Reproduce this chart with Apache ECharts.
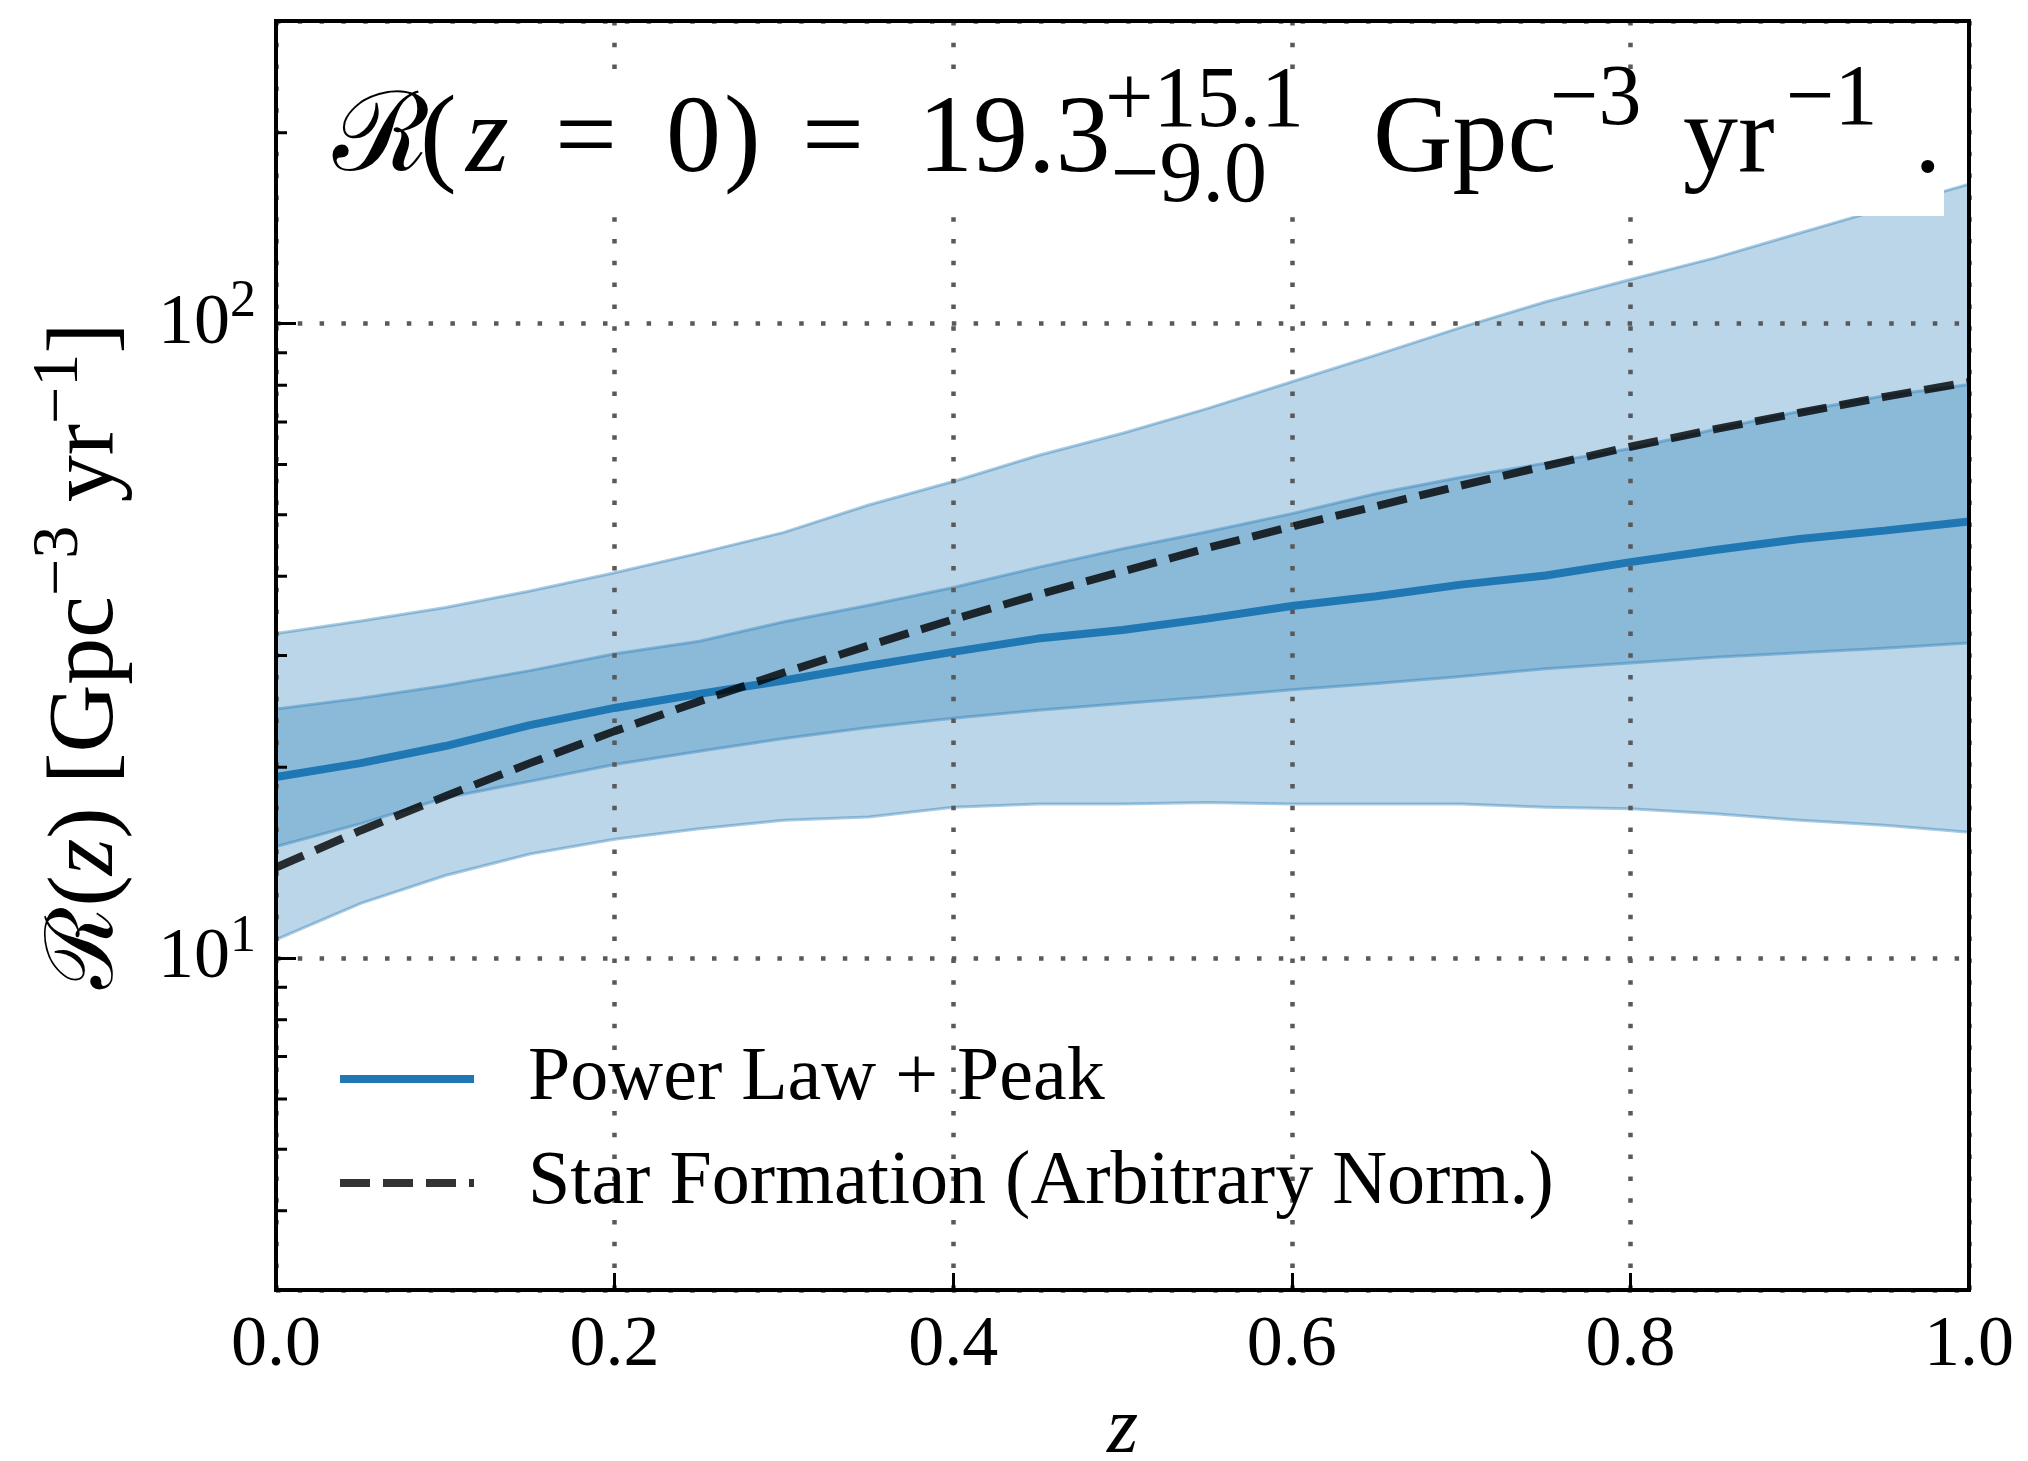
<!DOCTYPE html>
<html>
<head>
<meta charset="utf-8">
<script src="https://cdn.jsdelivr.net/npm/echarts@6/dist/echarts.min.js"></script>
<style>
  html, body { margin: 0; padding: 0; background: #ffffff; }
  #chart { width: 2028px; height: 1461px; }
</style>
</head>
<body>
<div id="chart"></div>
<script>
// Merger rate density R(z) for the Power Law + Peak model, with credible bands
const redshift = [0, 0.05, 0.1, 0.15, 0.2, 0.25, 0.3, 0.35, 0.4, 0.45, 0.5,
                  0.55, 0.6, 0.65, 0.7, 0.75, 0.8, 0.85, 0.9, 0.95, 1.0];
const rate90Upper = [32.5, 34.0, 35.7, 37.9, 40.5, 43.5, 46.9, 51.8, 56.4, 62.0, 67.2,
                     73.5, 81.0, 89.3, 98.7, 108.3, 117.4, 127.0, 139.0, 152.0, 166.0];
const rate50Upper = [24.7, 25.7, 26.9, 28.4, 30.2, 31.6, 33.9, 36.0, 38.4, 41.3, 44.2,
                     47.0, 50.2, 54.0, 57.3, 60.3, 63.6, 68.2, 72.8, 77.0, 80.2];
const rateMedian  = [19.3, 20.3, 21.6, 23.3, 24.8, 26.1, 27.4, 28.9, 30.4, 31.9, 32.9,
                     34.3, 35.9, 37.2, 38.8, 40.1, 42.1, 44.0, 45.8, 47.2, 48.8];
const rate50Lower = [15.0, 16.3, 17.9, 19.0, 20.2, 21.2, 22.2, 23.1, 23.9, 24.6, 25.2,
                     25.8, 26.5, 27.1, 27.8, 28.6, 29.2, 29.8, 30.3, 30.8, 31.4];
const rate90Lower = [10.7, 12.2, 13.5, 14.6, 15.4, 16.0, 16.5, 16.7, 17.3, 17.5, 17.5,
                     17.6, 17.5, 17.5, 17.5, 17.3, 17.2, 16.9, 16.5, 16.2, 15.8];
const starFormation = [13.9, 15.9, 18.0, 20.3, 22.8, 25.4, 28.2, 31.1, 34.2, 37.4, 40.7,
                       44.3, 47.9, 51.6, 55.6, 59.7, 64.0, 68.2, 72.4, 76.7, 80.9];

const seriesNames = ['Power Law + Peak', 'Star Formation (Arbitrary Norm.)'];
const xTicks = { min: 0, max: 1, step: 0.2 };
const yRange = { min: 3, max: 300 };
const minorTickValues = [4, 5, 6, 7, 8, 9, 20, 30, 40, 50, 60, 70, 80, 90, 200];

const SERIF = '"Liberation Serif", "Times New Roman", serif';
const BLUE = '#1f77b4';
const DARK = 'rgba(0,0,0,0.8)';
const BAND_FILL = 'rgba(31,119,180,0.3)';
const BAND_EDGE = 'rgba(31,119,180,0.38)';
const SFR_DASH = [30, 13];
const LINE_W = 8;

const GRID = { left: 276, right: 59, top: 21, bottom: 171 };
const plotW = 2028 - GRID.left - GRID.right;
const plotH = 1461 - GRID.top - GRID.bottom;

function bandSeries(name, lower, upper) {
  return {
    type: 'custom',
    name: name,
    coordinateSystem: 'cartesian2d',
    z: -1,
    silent: true,
    clip: true,
    data: redshift.map((z, i) => [z, lower[i], upper[i]]),
    encode: { x: 0, y: [1, 2] },
    renderItem: function (params, api) {
      if (params.dataIndex !== 0) return null;
      const top = redshift.map((z, i) => api.coord([z, upper[i]]));
      const bot = redshift.map((z, i) => api.coord([z, lower[i]]));
      return {
        type: 'group',
        children: [
          { type: 'polygon', shape: { points: top.concat(bot.slice().reverse()) },
            style: { fill: BAND_FILL } },
          { type: 'polyline', shape: { points: top },
            style: { stroke: BAND_EDGE, lineWidth: 3, fill: null } },
          { type: 'polyline', shape: { points: bot },
            style: { stroke: BAND_EDGE, lineWidth: 3, fill: null } }
        ]
      };
    }
  };
}

function minorTickSeries() {
  return {
    type: 'custom',
    coordinateSystem: 'cartesian2d',
    silent: true,
    clip: false,
    z: 5,
    data: minorTickValues.map(v => [0, v]),
    renderItem: function (params, api) {
      const p = api.coord([api.value(0), api.value(1)]);
      return { type: 'line', shape: { x1: p[0], y1: p[1], x2: p[0] + 11, y2: p[1] },
               style: { stroke: '#000', lineWidth: 3 } };
    }
  };
}

// Annotation: R(z=0) = 19.3 +15.1 -9.0 Gpc^-3 yr^-1.
function headerPiece(text, x, baseline, size, opts) {
  opts = opts || {};
  const family = opts.family || SERIF;
  const style = opts.italic ? 'italic ' : '';
  return {
    type: 'text', z: 31, silent: true,
    style: {
      text: text, x: x, y: baseline - 0.3375 * size,
      font: style + size + 'px ' + family,
      fill: '#000', textAlign: 'left', verticalAlign: 'middle'
    }
  };
}

const header = [
  headerPiece('ℛ', 333, 179, 110, { family: '"DejaVu Serif", serif' }),
  headerPiece('(', 420, 179, 110),
  headerPiece('z', 466, 179, 110, { italic: true }),
  headerPiece('=', 555, 179, 110),
  headerPiece('0', 666, 179, 110),
  headerPiece(')', 724, 179, 110),
  headerPiece('=', 802, 179, 110),
  headerPiece('19.3', 918, 179, 110),
  headerPiece('+15.1', 1105, 132, 86),
  headerPiece('−9.0', 1111, 207, 86),
  headerPiece('Gpc', 1373, 179, 110),
  headerPiece('−3', 1550, 130, 86),
  headerPiece('yr', 1683, 179, 110),
  headerPiece('−1', 1786, 130, 86),
  headerPiece('.', 1914, 179, 110)
];

const chart = echarts.init(document.getElementById('chart'), null, { renderer: 'canvas' });

chart.setOption({
  animation: false,
  backgroundColor: '#ffffff',
  grid: { left: GRID.left, right: GRID.right, top: GRID.top, bottom: GRID.bottom,
          containLabel: false, outerBoundsMode: 'none' },
  xAxis: {
    type: 'value',
    min: xTicks.min, max: xTicks.max, interval: xTicks.step,
    name: 'z',
    nameLocation: 'middle',
    nameGap: 101,
    nameTextStyle: { fontFamily: SERIF, fontStyle: 'italic', fontSize: 80, lineHeight: 80, color: '#000' },
    axisLine: { show: false },
    axisTick: { show: true, inside: true, length: 17, lineStyle: { color: '#000', width: 3 } },
    axisLabel: { fontFamily: SERIF, fontSize: 72, color: '#000', margin: 20,
                 formatter: v => v.toFixed(1) },
    splitLine: { show: true, lineStyle: { color: '#595959', width: 4.5, type: [4.5, 17.3] } }
  },
  yAxis: {
    type: 'log', logBase: 10,
    min: yRange.min, max: yRange.max,
    name: '{cal|ℛ}({it|z}) [Gpc{sup|−3} yr{sup|−1}]',
    nameLocation: 'middle',
    nameRotate: 90,
    nameGap: 125,
    nameTextStyle: {
      fontFamily: SERIF, fontSize: 94, color: '#000', lineHeight: 120,
      rich: {
        cal: { fontFamily: '"DejaVu Serif", serif', fontSize: 94, lineHeight: 120 },
        it: { fontFamily: SERIF, fontStyle: 'italic', fontSize: 94, lineHeight: 120 },
        sup: { fontFamily: SERIF, fontSize: 66, lineHeight: 66, verticalAlign: 'top' }
      }
    },
    axisLine: { show: false },
    axisTick: { show: true, inside: true, length: 20, lineStyle: { color: '#000', width: 3 } },
    axisLabel: {
      fontFamily: SERIF, fontSize: 72, color: '#000', margin: 20, lineHeight: 94,
      showMinLabel: false, showMaxLabel: false,
      formatter: function (v) {
        return '10{sup|' + Math.round(Math.log10(v)) + '}';
      },
      rich: { sup: { fontFamily: SERIF, fontSize: 52, lineHeight: 50, verticalAlign: 'top', color: '#000' } }
    },
    splitLine: { show: true, lineStyle: { color: '#595959', width: 4.5, type: [4.5, 17.3] } }
  },
  legend: {
    orient: 'vertical',
    left: 336, top: 1039,
    padding: 0,
    itemWidth: 134, itemHeight: 24, itemGap: 24,
    itemStyle: { opacity: 0 },
    lineStyle: { width: LINE_W },
    textStyle: { fontFamily: SERIF, fontSize: 76, color: '#000', lineHeight: 80,
                 padding: [0, 0, 0, 49] },
    data: [
      { name: seriesNames[0] },
      { name: seriesNames[1], lineStyle: { type: SFR_DASH, width: LINE_W } }
    ]
  },
  series: [
    bandSeries('90% band', rate90Lower, rate90Upper),
    bandSeries('50% band', rate50Lower, rate50Upper),
    {
      type: 'line', name: seriesNames[0], z: 3,
      data: redshift.map((z, i) => [z, rateMedian[i]]),
      showSymbol: false, symbol: 'none', silent: true,
      lineStyle: { color: BLUE, width: LINE_W },
      itemStyle: { color: BLUE }
    },
    {
      type: 'line', name: seriesNames[1], z: 4,
      data: redshift.map((z, i) => [z, starFormation[i]]),
      showSymbol: false, symbol: 'none', silent: true,
      lineStyle: { color: DARK, width: LINE_W, type: SFR_DASH },
      itemStyle: { color: DARK }
    },
    minorTickSeries()
  ],
  graphic: [
    { type: 'rect', z: 30, silent: true,
      shape: { x: 310, y: 72, width: 1634, height: 144 },
      style: { fill: '#ffffff' } },
    ...header,
    { type: 'rect', z: 40, silent: true,
      shape: { x: GRID.left, y: GRID.top, width: plotW, height: plotH },
      style: { fill: null, stroke: '#000', lineWidth: 4 } }
  ]
});
</script>
</body>
</html>
